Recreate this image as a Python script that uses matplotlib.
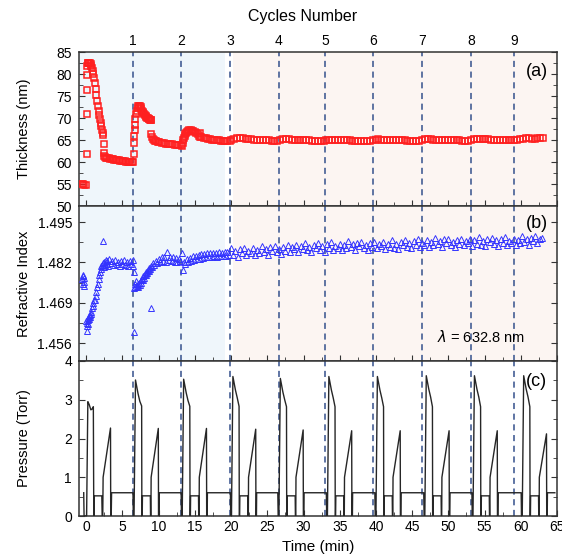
import numpy as np
import matplotlib
matplotlib.use('Agg')
import matplotlib.pyplot as plt
from matplotlib.ticker import MultipleLocator, FixedLocator

plt.rcParams['font.family'] = ['Liberation Sans', 'DejaVu Sans']

# ---- data ----
# cycle boundaries (min) and their numbers on the top axis
cycle_t = [6.42, 13.09, 19.82, 26.6, 33.0, 39.66, 46.4, 53.1, 59.1]
cycle_no = [1, 2, 3, 4, 5, 6, 7, 8, 9]

# thickness (nm), first three cycles
thick_t1 = [-0.55, -0.45, -0.35, 0.0, 0.05, 0.07, 0.09, 0.11, 0.14, 0.2,
            0.3, 0.4, 0.5, 0.6, 0.7, 0.8, 0.9, 1.0,
            1.1, 1.2, 1.3, 1.4, 1.5, 1.6, 1.7, 1.8, 1.9, 2.0, 2.1, 2.2, 2.3,
            2.35, 2.4, 2.45, 2.5, 2.6,
            2.7, 2.9, 3.1, 3.3, 3.5, 3.7, 3.9, 4.1, 4.3, 4.5, 4.7, 4.9, 5.1, 5.3, 5.5, 5.7, 5.9, 6.1, 6.3]
thick_v1 = [54.9, 54.9, 54.8, 54.8, 61.8, 70.9, 76.4, 79.8, 81.8, 82.4,
            82.6, 82.6, 82.5, 82.2, 81.8, 81.3, 80.7, 80.0,
            79.0, 77.9, 76.6, 75.2, 73.9, 72.7, 71.6, 70.6, 69.7, 68.9, 68.1, 67.3, 66.6,
            66.2, 64.1, 62.0, 61.4, 61.1,
            61.0, 60.9, 60.8, 60.7, 60.65, 60.6, 60.5, 60.45, 60.4, 60.35, 60.3, 60.25, 60.2, 60.15,
            60.1, 60.05, 60.0, 60.0, 59.95]
thick_t2 = [6.5, 6.55, 6.6, 6.65, 6.7, 6.75, 6.8,
            6.9, 7.0, 7.1, 7.2, 7.3, 7.4, 7.5, 7.6, 7.7, 7.8, 7.9, 8.0, 8.1, 8.2, 8.3, 8.4, 8.5, 8.6, 8.7, 8.8,
            8.88, 8.95, 9.0, 9.05, 9.15, 9.3, 9.5, 9.7, 9.9, 10.1,
            10.4, 10.7, 11.0, 11.3, 11.6, 11.9, 12.2, 12.5, 12.8, 13.1]
thick_v2 = [60.0, 61.9, 64.3, 65.9, 67.2, 68.4, 69.8,
            70.9, 71.7, 72.3, 72.7, 72.8, 72.7, 72.4, 72.0, 71.7, 71.4, 71.1, 70.9, 70.7, 70.5, 70.3,
            70.1, 70.0, 69.8, 69.7, 69.65,
            69.6, 69.5, 66.4, 65.6, 65.2, 65.0, 64.8, 64.7, 64.6, 64.5,
            64.4, 64.3, 64.2, 64.1, 64.05, 64.0, 63.95, 63.9, 63.85, 63.8]
thick_t3 = [13.2, 13.3, 13.4, 13.5, 13.6, 13.7, 13.8, 13.9, 14.0,
            14.2, 14.4, 14.6, 14.8, 15.0, 15.2, 15.4, 15.55, 15.65, 15.75, 15.9,
            16.2, 16.5, 16.8, 17.1, 17.4, 17.7, 18.0, 18.3, 18.6, 18.9, 19.2, 19.5, 19.8]
thick_v3 = [63.6, 64.3, 65.0, 65.5, 66.0, 66.3, 66.6, 66.8, 67.0,
            67.2, 67.2, 67.1, 67.0, 66.8, 66.6, 66.3, 66.0, 66.5, 65.7, 65.6,
            65.45, 65.35, 65.25, 65.15, 65.1, 65.0, 64.95, 64.9, 64.85, 64.85, 64.8, 64.8, 64.8]
# thickness from 20 min to the end, evenly sampled
thick_late = [64.9, 65.3, 65.4, 65.4, 65.35, 65.3, 65.2, 65.15, 65.1, 65.05, 65.0, 64.95, 64.9, 64.9, 64.85, 64.85, 64.85,
              65.1, 65.2, 65.2, 65.15, 65.1, 65.05, 65.0, 65.0, 64.95, 64.9, 64.9, 64.85, 64.85, 64.8, 64.8, 64.8,
              65.0, 65.1, 65.1, 65.05, 65.0, 65.0, 64.95, 64.9, 64.9, 64.85, 64.85, 64.8, 64.8, 64.8, 64.75, 64.75,
              64.9, 65.1, 65.15, 65.1, 65.05, 65.0, 65.0, 64.95, 64.95, 64.9, 64.9, 64.9, 64.85, 64.85, 64.85, 64.8, 64.8,
              65.0, 65.15, 65.2, 65.15, 65.1, 65.1, 65.05, 65.0, 65.0, 64.95, 64.95, 64.9, 64.9, 64.9, 64.85, 64.85, 64.85,
              65.05, 65.25, 65.3, 65.25, 65.2, 65.2, 65.15, 65.1, 65.1, 65.05, 65.05, 65.0, 65.0, 65.0, 64.95, 65.0,
              65.1, 65.2, 65.3, 65.35, 65.35, 65.3, 65.3, 65.35, 65.4, 65.45]

# refractive index, first three cycles
ri_t1 = [-0.55, -0.5, -0.45, -0.4, -0.35, -0.3, -0.25,
         0.0, 0.05, 0.1, 0.15, 0.2, 0.25, 0.3, 0.35, 0.4, 0.45, 0.5,
         0.6, 0.7, 0.8, 0.9, 1.0, 1.1, 1.2, 1.3, 1.4, 1.5, 1.6, 1.7, 1.8, 1.9, 2.0, 2.1, 2.2, 2.3,
         2.35, 2.4, 2.5, 2.6, 2.7, 2.8, 2.9, 3.0,
         3.2, 3.4, 3.6, 3.8, 4.0, 4.2, 4.4, 4.6, 4.8, 5.0, 5.2, 5.4, 5.6, 5.8, 6.0, 6.2, 6.4]
ri_v1 = [1.4765, 1.4775, 1.4752, 1.4780, 1.4745, 1.4770, 1.4758,
         1.4630, 1.4600, 1.4615, 1.4625, 1.4640, 1.4620, 1.4635, 1.4648, 1.4638, 1.4652, 1.4645,
         1.4660, 1.4655, 1.4672, 1.4680, 1.4690, 1.4700, 1.4698, 1.4712, 1.4725, 1.4740, 1.4750,
         1.4765, 1.4780, 1.4790, 1.4798, 1.4808, 1.4812, 1.4818,
         1.4889, 1.4805, 1.4822, 1.4812, 1.4828, 1.4815, 1.4825, 1.4810,
         1.4830, 1.4818, 1.4826, 1.4812, 1.4828, 1.4815, 1.4822, 1.4808, 1.4826, 1.4814, 1.4828,
         1.4812, 1.4822, 1.4810, 1.4826, 1.4815, 1.4828]
ri_t2 = [6.5, 6.55, 6.6, 6.65, 6.7,
         6.8, 6.9, 7.0, 7.1, 7.2, 7.3, 7.4, 7.5, 7.6, 7.7, 7.8, 7.9, 8.0, 8.1, 8.2, 8.3, 8.4, 8.5,
         8.6, 8.7, 8.8, 8.9, 9.0, 9.05,
         9.2, 9.4, 9.6, 9.8, 10.0, 10.2, 10.4, 10.6, 10.8, 11.0, 11.2, 11.4, 11.6, 11.8, 12.0,
         12.2, 12.4, 12.6, 12.8, 13.0]
ri_v2 = [1.4808, 1.4790, 1.4736, 1.4596, 1.4752,
         1.4740, 1.4760, 1.4745, 1.4752, 1.4740, 1.4755, 1.4748, 1.4762, 1.4755, 1.4768, 1.4762,
         1.4775, 1.4770, 1.4782, 1.4778, 1.4790, 1.4785, 1.4795, 1.4792, 1.4802, 1.4798, 1.4810,
         1.4674, 1.4805,
         1.4818, 1.4812, 1.4826, 1.4818, 1.4832, 1.4822, 1.4838, 1.4825, 1.4836, 1.4822, 1.4854,
         1.4828, 1.4838, 1.4824, 1.4836, 1.4822, 1.4834, 1.4820, 1.4832, 1.4825]
ri_t3 = [13.2, 13.4, 13.5, 13.7, 13.9, 14.1, 14.3, 14.5, 14.7, 14.9, 15.1, 15.3, 15.5, 15.7, 15.9,
         16.1, 16.3, 16.5, 16.7, 16.9, 17.1, 17.3, 17.5, 17.7, 17.9, 18.1, 18.3, 18.5, 18.7, 18.9,
         19.1, 19.3, 19.5, 19.7]
ri_v3 = [1.4850, 1.4795, 1.4822, 1.4815, 1.4830, 1.4820, 1.4835, 1.4825, 1.4840, 1.4828, 1.4842,
         1.4830, 1.4845, 1.4832, 1.4846, 1.4834, 1.4848, 1.4836, 1.4850, 1.4838, 1.4849, 1.4837,
         1.4852, 1.4840, 1.4851, 1.4839, 1.4853, 1.4841, 1.4852, 1.4840, 1.4855, 1.4842, 1.4854, 1.4843]
# refractive index from 20 min to the end, evenly sampled
ri_late = [1.4865, 1.4844, 1.4857, 1.4838, 1.4862, 1.4851, 1.4868, 1.4844, 1.4856, 1.4849,
           1.4865, 1.4845, 1.4860, 1.4850, 1.4873, 1.4854, 1.4864, 1.4845, 1.4869, 1.4857,
           1.4873, 1.4853, 1.4863, 1.4846, 1.4870, 1.4858, 1.4875, 1.4855, 1.4869, 1.4863,
           1.4877, 1.4854, 1.4872, 1.4862, 1.4884, 1.4859, 1.4871, 1.4854, 1.4877, 1.4868,
           1.4882, 1.4861, 1.4874, 1.4855, 1.4879, 1.4868, 1.4885, 1.4860, 1.4873, 1.4866,
           1.4881, 1.4860, 1.4875, 1.4866, 1.4888, 1.4869, 1.4879, 1.4859, 1.4884, 1.4872,
           1.4887, 1.4866, 1.4876, 1.4859, 1.4882, 1.4870, 1.4886, 1.4865, 1.4880, 1.4873,
           1.4886, 1.4863, 1.4881, 1.4871, 1.4893, 1.4868, 1.4880, 1.4862, 1.4886, 1.4877,
           1.4891, 1.4870, 1.4883, 1.4865, 1.4888, 1.4877, 1.4894, 1.4869, 1.4882, 1.4875,
           1.4891, 1.4870, 1.4885, 1.4876, 1.4898, 1.4879, 1.4889, 1.4869, 1.4894, 1.4882,
           1.4897, 1.4876, 1.4886, 1.4869, 1.4892, 1.4880, 1.4896, 1.4875, 1.4890, 1.4883,
           1.4896, 1.4873, 1.4891, 1.4880, 1.4902, 1.4877, 1.4890, 1.4872, 1.4895, 1.4886,
           1.4899, 1.4878, 1.4891, 1.4872, 1.4895, 1.4884, 1.4902, 1.4877, 1.4889, 1.4882,
           1.4897, 1.4876, 1.4891, 1.4882, 1.4904, 1.4885, 1.4895, 1.4875, 1.4900, 1.4888,
           1.4904, 1.4884, 1.4895, 1.4900]

# pressure (Torr): first cycle as read, then one pulse per later cycle
press1_t = [-0.35, -0.3, 0.05, 0.22, 0.4, 0.64, 0.8, 0.98, 1.04, 1.08, 1.12,
            2.15, 2.2, 2.28, 2.33, 3.35, 3.38, 3.45, 3.5]
press1_p = [0.6, 0.0, 0.0, 2.95, 2.88, 2.74, 2.76, 2.82, 0.0, 0.0, 0.52,
            0.52, 0.0, 0.0, 1.0, 2.27, 0.0, 0.0, 0.6]
peak_t = [6.8, 13.45, 20.25, 26.8, 33.5, 40.2, 46.95, 53.6, 60.4]
peak_p = [3.51, 3.53, 3.6, 3.55, 3.6, 3.6, 3.62, 3.62, 3.62]
knee_p = [2.84, 2.83, 2.83, 2.82, 2.82, 2.82, 2.82, 2.82, 2.82]
ramp_top = [2.26, 2.26, 2.24, 2.22, 2.2, 2.2, 2.2, 2.2, 2.12]
press_end = 64.7


def pulse(tp, peak, knee, top):
    dt = [-0.35, -0.3, -0.2, 0, 0.15, 0.35, 0.6, 0.85, 0.88, 0.93, 0.96,
          2.05, 2.08, 2.13, 2.16, 3.15, 3.18, 3.25, 3.28]
    p = [0.6, 0, 0, peak, peak - 0.15, peak - 0.35, peak - 0.55, knee, 0, 0, 0.52,
         0.52, 0, 0, 1.0, top, 0, 0, 0.6]
    return [tp + d for d in dt], p


press_t = list(press1_t)
press_p = list(press1_p)
for tp, pk, kn, tp_top in zip(peak_t, peak_p, knee_p, ramp_top):
    t, p = pulse(tp, pk, kn, tp_top)
    press_t += t
    press_p += p
press_t.append(press_end)
press_p.append(0.6)

# ---- figure ----
W, H = 562, 557
fig = plt.figure(figsize=(W / 100, H / 100), dpi=100)

left, right = 79, 557
tops = [52, 206, 361]
bots = [206, 361, 516]
axes = []
for tpx, bpx in zip(tops, bots):
    ax = fig.add_axes([left / W, 1 - bpx / H, (right - left) / W, (bpx - tpx) / H])
    axes.append(ax)
ax_a, ax_b, ax_c = axes

dash_col = '#34508c'
for ax in axes:
    ax.set_xlim(-1, 65)
    for s in ax.spines.values():
        s.set_color('#333333')
        s.set_linewidth(1.1)
    ax.xaxis.set_major_locator(MultipleLocator(5))
    ax.xaxis.set_minor_locator(MultipleLocator(2.5))
    ax.tick_params(which='both', direction='in', top=False, right=True,
                   labelsize=10, color='#333333', pad=5)
    ax.tick_params(which='major', length=4)
    ax.tick_params(which='minor', length=3)
    for x in cycle_t:
        ax.axvline(x, color=dash_col, lw=1.1, ls=(0, (4, 3)), zorder=1)

for ax in (ax_a, ax_b):
    ax.axvspan(-1, 19.2, color='#eff6fb', zorder=0, lw=0)
    ax.axvspan(20.3, 65, color='#fcf5f2', zorder=0, lw=0)
    ax.tick_params(labelbottom=False)

# (a) thickness
for tt, vv in ((thick_t1, thick_v1), (thick_t2, thick_v2), (thick_t3, thick_v3),
               (np.linspace(20.0, 63.1, len(thick_late)), thick_late)):
    ax_a.plot(tt, vv, ls='none', marker='s', ms=4.0, mfc='none', mec='#ff2020', mew=1.1, zorder=3)
ax_a.set_ylim(50, 85)
ax_a.yaxis.set_major_locator(MultipleLocator(5))
ax_a.yaxis.set_minor_locator(MultipleLocator(2.5))
ax_a.set_ylabel('Thickness (nm)', fontsize=10.5)
ax_a.text(0.957, 0.872, '(a)', transform=ax_a.transAxes, ha='center', va='center', fontsize=13)

sec = ax_a.secondary_xaxis('top')
sec.set_xticks(cycle_t, labels=[str(n) for n in cycle_no])
sec.tick_params(length=0, pad=3, labelsize=10)
sec.spines['top'].set_visible(False)
fig.text(303 / W, 1 - 17 / H, 'Cycles Number', ha='center', va='center', fontsize=11.5)

# (b) refractive index
for tt, vv in ((ri_t1, ri_v1), (ri_t2, ri_v2), (ri_t3, ri_v3),
               (np.linspace(20.0, 62.9, len(ri_late)), ri_late)):
    ax_b.plot(tt, vv, ls='none', marker='^', ms=4.8, mfc='none', mec='#3434ff', mew=0.7, zorder=3)
ax_b.set_ylim(1.4502, 1.5002)
ax_b.yaxis.set_major_locator(FixedLocator([1.456, 1.469, 1.482, 1.495]))
ax_b.yaxis.set_minor_locator(FixedLocator([1.4495, 1.4625, 1.4755, 1.4885]))
ax_b.yaxis.set_major_formatter(matplotlib.ticker.FormatStrFormatter('%.3f'))
ax_b.set_ylabel('Refractive Index', fontsize=10.5)
ax_b.text(0.957, 0.89, '(b)', transform=ax_b.transAxes, ha='center', va='center', fontsize=13)
ax_b.text(0.84, 0.155, r'$\lambda$ = 632.8 nm', transform=ax_b.transAxes, ha='center', va='center',
          fontsize=10.5)

# (c) pressure
ax_c.plot(press_t, press_p, color='#262626', lw=1.0, zorder=3)
ax_c.set_ylim(0, 4)
ax_c.yaxis.set_major_locator(MultipleLocator(1))
ax_c.yaxis.set_minor_locator(MultipleLocator(0.5))
ax_c.set_ylabel('Pressure (Torr)', fontsize=10.5)
ax_c.set_xlabel('Time (min)', fontsize=11, labelpad=4)
ax_c.tick_params(axis='x', pad=3)
ax_c.text(0.957, 0.865, '(c)', transform=ax_c.transAxes, ha='center', va='center', fontsize=13)

for ax in axes:
    ax.yaxis.set_label_coords(-0.1, 0.5)

fig.savefig('out.png', dpi=100)
